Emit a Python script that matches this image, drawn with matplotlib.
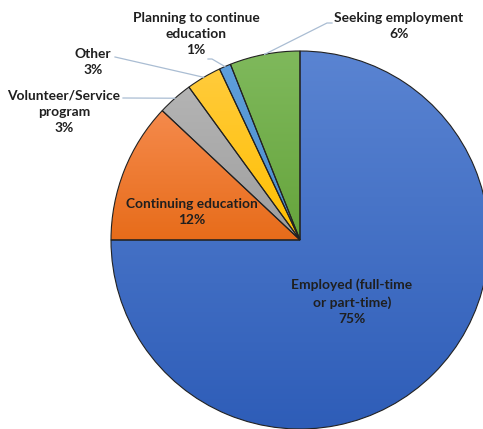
import matplotlib
matplotlib.use("Agg")
import matplotlib.pyplot as plt
import numpy as np
from matplotlib.colors import LinearSegmentedColormap

labels = ["Employed (full-time\nor part-time)", "Continuing education",
          "Volunteer/Service\nprogram", "Other",
          "Planning to continue\neducation", "Seeking employment"]
values = [75, 12, 3, 3, 1, 6]
# top / bottom gradient colours for each slice
col_top = ["#5a84d2", "#f58a4c", "#b4b4b4", "#ffcb3c", "#5f9fdb", "#7fb95c"]
col_bot = ["#2e5db8", "#e76c1a", "#9e9e9e", "#ffbf00", "#4a8ccc", "#66a43c"]

W, H = 483, 429
CX, CY, R = 300, 240, 189   # pie centre and radius in pixels


def px(x, y):
    # pixel (from top-left) -> data coords of the pie axes
    return (x - CX) / R, (CY - y) / R


fig = plt.figure(figsize=(W / 100, H / 100), dpi=100)
ax = fig.add_axes([(CX - R) / W, (H - CY - R) / H, 2 * R / W, 2 * R / H])
ax.set_xlim(-1, 1)
ax.set_ylim(-1, 1)
ax.set_aspect("equal")
ax.axis("off")

wedges, _ = ax.pie(values, startangle=90, counterclock=False, radius=1,
                   wedgeprops=dict(edgecolor="#222222", linewidth=0.8, facecolor="none"))

# fill each wedge with a vertical gradient clipped to it
for w, ct, cb in zip(wedges, col_top, col_bot):
    bb = w.get_path().get_extents(w.get_patch_transform())
    cmap = LinearSegmentedColormap.from_list("g", [cb, ct])
    grad = np.linspace(0, 1, 256).reshape(-1, 1)
    im = ax.imshow(grad, cmap=cmap, origin="lower", aspect="auto",
                   extent=[bb.x0, bb.x1, bb.y0, bb.y1], zorder=0.5)
    im.set_clip_path(w)
    w.set_zorder(1)

ax.set_xlim(-1, 1)
ax.set_ylim(-1, 1)

font = dict(family=["Lato", "DejaVu Sans"], fontsize=9.9, fontweight="bold",
            color="#1f1f1f", ha="center", va="center", linespacing=1.45)

# label centres in pixels
label_pos = [(352, 302), (192, 212), (64, 112), (93, 62), (196, 34), (399, 26)]
for lab, v, (x, y) in zip(labels, values, label_pos):
    tx, ty = px(x, y)
    ax.text(tx, ty, f"{lab}\n{v}%", clip_on=False, zorder=5, **font)

# leader lines: start in pixels, end at the wedge's outer mid point
leaders = {2: [(123, 98)], 3: [(115, 57)], 4: [(208, 59), (212, 59)],
           5: [(332, 23), (327, 23)]}
for i, pts in leaders.items():
    w = wedges[i]
    mid = np.radians((w.theta1 + w.theta2) / 2)
    xs = [px(*p)[0] for p in pts] + [np.cos(mid)]
    ys = [px(*p)[1] for p in pts] + [np.sin(mid)]
    ax.plot(xs, ys, color="#aabdd3", lw=0.9, clip_on=False, zorder=4)

fig.savefig("out.png", dpi=100)
